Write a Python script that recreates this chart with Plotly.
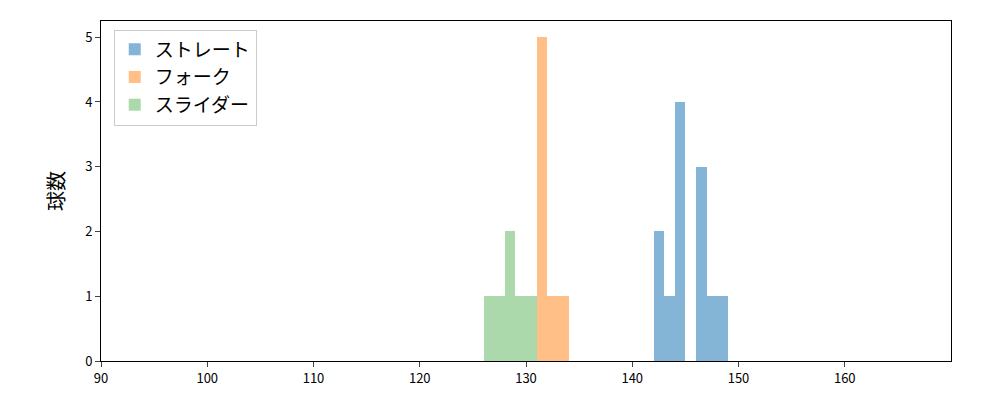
import plotly.graph_objects as go

straight = [142.3, 142.7, 143.5, 144.1, 144.4, 144.6, 144.8, 146.2, 146.5, 146.8, 147.4, 148.3]
fork = [131.2, 131.4, 131.5, 131.7, 131.9, 132.5, 133.4]
slider = [126.5, 127.4, 128.2, 128.6, 129.5, 130.4]

series = [
    ("ストレート", straight, "rgba(31,119,180,0.55)", 142, 149),
    ("フォーク", fork, "rgba(255,127,14,0.5)", 131, 134),
    ("スライダー", slider, "rgba(44,160,44,0.4)", 126, 131),
]

fig = go.Figure()
for name, vals, color, lo, hi in series:
    fig.add_trace(go.Histogram(
        x=vals, name=name, marker=dict(color=color, line=dict(width=0)),
        xbins=dict(start=lo, end=hi, size=1), autobinx=False,
    ))

fig.update_layout(
    barmode="overlay", bargap=0,
    width=1000, height=400,
    margin=dict(l=93, r=57, t=13, b=47),
    plot_bgcolor="white", paper_bgcolor="white",
    font=dict(family="Noto Sans CJK JP", color="black", size=13),
    xaxis=dict(range=[90, 170], tickvals=list(range(90, 170, 10)), showgrid=False,
               showline=True, linecolor="black", mirror=True, ticks="outside", zeroline=False),
    yaxis=dict(range=[0, 5.25], tickvals=list(range(6)), showgrid=False, title=dict(text="球数", font=dict(size=20)),
               showline=True, linecolor="black", mirror=True, ticks="outside", zeroline=False),
    legend=dict(x=0.015, y=0.975, xanchor="left", yanchor="top", font=dict(size=19),
                bordercolor="#cccccc", borderwidth=1, bgcolor="rgba(255,255,255,0.8)"),
)

fig.write_html("out.html")
